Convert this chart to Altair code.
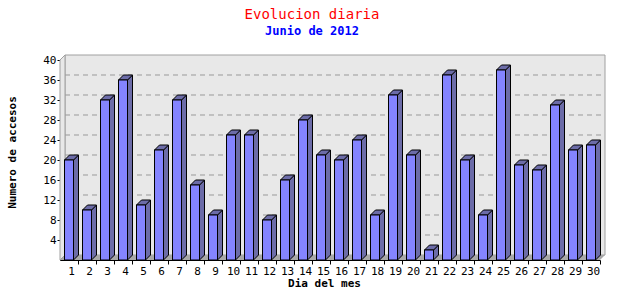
import altair as alt
import pandas as pd

# ---- data ----
days = list(range(1, 31))
visits = [20, 10, 32, 36, 11, 22, 32, 15, 9, 25, 25, 8, 16, 28, 21,
          20, 24, 9, 33, 21, 2, 37, 20, 9, 38, 19, 18, 31, 22, 23]
y_ticks = [4, 8, 12, 16, 20, 24, 28, 32, 36, 40]
grid_values = [4, 8, 12, 16, 20, 24, 28, 32, 36]
title_text = "Evolucion diaria"
subtitle_text = "Junio de 2012"
x_title = "Dia del mes"
y_title = "Numero de accesos"

FONT = "DejaVu Sans Mono"
FRONT = "#8484ff"
SIDE = "#6c6ca8"
WALL = "#e8e8e8"
FLOOR = "#a8a8a8"
EDGE = "#a0a0a0"

HALF = 0.25          # half bar width in day units
DX = 5 / 18          # 3D depth along x (day units)
DY = 1               # 3D depth along y (value units)
X0, X1 = 0.5, 30.5
YMAX = 40

# ---- tables built from the arrays ----
front_df = pd.DataFrame({"day": days, "v": visits})
front_df["xl"] = front_df["day"] - HALF
front_df["xr"] = front_df["day"] + HALF
front_df["zero"] = 0

side_rows, top_rows = [], []
for d, v in zip(days, visits):
    side_rows.append({"day": d, "x": d + HALF, "top": v, "bot": 0})
    side_rows.append({"day": d, "x": d + HALF + DX, "top": v + DY, "bot": DY})
    top_rows.append({"day": d, "y": v, "xa": d - HALF, "xb": d + HALF})
    top_rows.append({"day": d, "y": v + DY, "xa": d - HALF + DX, "xb": d + HALF + DX})
side_df = pd.DataFrame(side_rows)
top_df = pd.DataFrame(top_rows)

wall_df = pd.DataFrame([{"x": X0 + DX, "x2": X1 + DX, "y": DY, "y2": YMAX + DY}])
grid_df = pd.DataFrame({"g": [g + DY for g in grid_values], "xa": X0 + DX, "xb": X1 + DX})
floor_df = pd.DataFrame([{"y": 0, "xa": X0, "xb": X1}, {"y": DY, "xa": X0 + DX, "xb": X1 + DX}])
lwall_df = pd.DataFrame([{"x": X0, "top": YMAX, "bot": 0}, {"x": X0 + DX, "top": YMAX + DY, "bot": DY}])

X_SCALE = alt.Scale(domain=[X0, X1], nice=False, zero=False)
Y_SCALE = alt.Scale(domain=[0, YMAX], nice=False, zero=True)

X_AXIS = alt.Axis(values=days, format="d", tickOffset=9, labelOffset=-7, tickSize=4,
                  tickColor="black", domainColor="black", labelColor="black",
                  labelFont=FONT, labelFontSize=11, labelPadding=1, labelFlush=False,
                  labelOverlap=False, grid=False, title=x_title, titleFont=FONT,
                  titleFontSize=11, titleFontWeight="bold", titleColor="black",
                  titleX=264, titleY=23, titleBaseline="middle", titleAlign="center")
Y_AXIS = alt.Axis(values=y_ticks, tickSize=3, tickColor="black", domainColor="black",
                  labelColor="black", labelFont=FONT, labelFontSize=11, labelPadding=1,
                  grid=False, title=y_title, titleFont=FONT, titleFontSize=11,
                  titleFontWeight="bold", titleColor="black", titleX=-48, titleY=92,
                  titleAngle=-90, titleBaseline="middle", titleAlign="center")


def xq(field):
    return alt.X(f"{field}:Q", scale=X_SCALE, axis=X_AXIS)


def yq(field):
    return alt.Y(f"{field}:Q", scale=Y_SCALE, axis=Y_AXIS)


wall = alt.Chart(wall_df).mark_rect(fill=WALL, stroke=EDGE, strokeWidth=1).encode(
    x=xq("x"), x2="x2", y=yq("y"), y2="y2")

grid = alt.Chart(grid_df).mark_rule(color="#999999", strokeDash=[5, 4], strokeWidth=1).encode(
    y=yq("g"), x=xq("xa"), x2="xb")

floor = alt.Chart(floor_df).mark_area(orient="horizontal", fill=FLOOR).encode(
    y=yq("y"), x=xq("xa"), x2="xb")

lwall = alt.Chart(lwall_df).mark_area(fill=WALL, stroke=EDGE, strokeWidth=1).encode(
    x=xq("x"), y=yq("top"), y2="bot")

side = alt.Chart(side_df).mark_area(fill=SIDE, stroke="black", strokeWidth=1).encode(
    x=xq("x"), y=yq("top"), y2="bot", detail="day:N")

top = alt.Chart(top_df).mark_area(orient="horizontal", fill=SIDE, stroke="black", strokeWidth=1).encode(
    y=yq("y"), x=xq("xa"), x2="xb", detail="day:N")

front = alt.Chart(front_df).mark_rect(fill=FRONT, stroke="black", strokeWidth=1).encode(
    x=xq("xl"), x2="xr", y=yq("zero"), y2="v")

chart = alt.layer(wall, grid, floor, lwall, side, top, front).properties(
    width=540, height=200,
    autosize=alt.AutoSizeParams(type="none"),
    padding={"left": 60, "top": 60, "right": 40, "bottom": 40},
    background="white",
    title=alt.TitleParams(text=title_text, subtitle=subtitle_text, anchor="middle", dx=-18,
                          font=FONT, fontSize=14, fontWeight="normal", color="red",
                          subtitleFont=FONT, subtitleFontSize=12, subtitleFontWeight="bold",
                          subtitleColor="blue", subtitlePadding=4, offset=16),
).configure_view(stroke=None)

chart.save("out.html", embed_options={"renderer": "svg", "actions": False})
